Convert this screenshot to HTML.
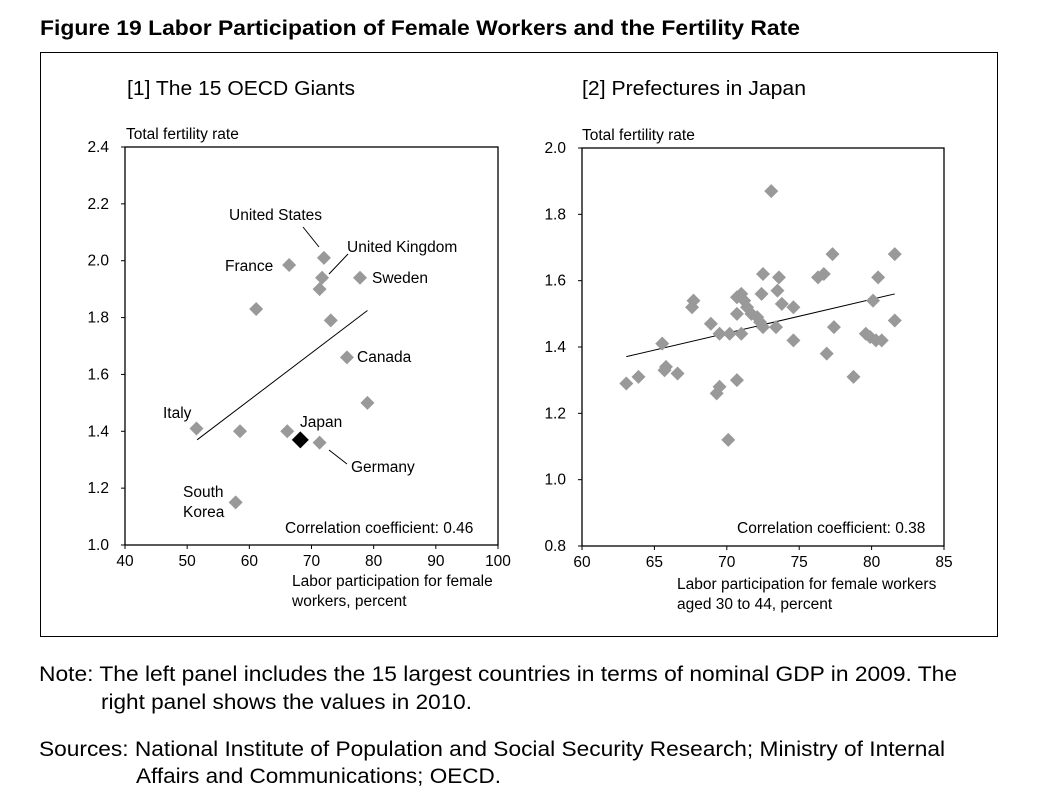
<!DOCTYPE html>
<html><head><meta charset="utf-8"><style>
body{margin:0;background:#fff;}
svg{display:block;font-family:"Liberation Sans",Arial,sans-serif;}
</style></head><body>
<svg id="fig" width="1047" height="795" viewBox="0 0 1047 795">
<text x="40" y="35" font-size="21" font-weight="bold" textLength="760" lengthAdjust="spacingAndGlyphs">Figure 19   Labor Participation of Female Workers and the Fertility Rate</text>
<rect x="40.5" y="52.5" width="957" height="584" fill="none" stroke="#000" stroke-width="1"/>
<text x="127" y="95" font-size="20" textLength="228" lengthAdjust="spacingAndGlyphs">[1] The 15 OECD Giants</text>
<text x="582" y="95" font-size="20" textLength="224" lengthAdjust="spacingAndGlyphs">[2] Prefectures in Japan</text>
<g id="left"></g>
<g id="right"></g>
<g font-size="21.5">
<text x="39" y="681" textLength="918" lengthAdjust="spacingAndGlyphs">Note:  The left panel includes the 15 largest countries in terms of nominal GDP in 2009. The</text>
<text x="101" y="709" textLength="371" lengthAdjust="spacingAndGlyphs">right panel shows the values in 2010.</text>
<text x="39" y="756" textLength="906" lengthAdjust="spacingAndGlyphs">Sources: National Institute of Population and Social Security Research; Ministry of Internal</text>
<text x="136" y="783" textLength="365" lengthAdjust="spacingAndGlyphs">Affairs and Communications; OECD.</text>
</g>
</svg>
<script>
const leftX=[51.5,58.5,57.8,61.1,66.4,72.0,71.7,71.3,73.1,77.8,75.7,79.0,66.1,68.2,71.3];
const leftY=[1.41,1.40,1.15,1.83,1.985,2.01,1.94,1.90,1.79,1.94,1.66,1.50,1.40,1.37,1.36];
const leftHighlight=[0,0,0,0,0,0,0,0,0,0,0,0,0,1,0];
const leftTrend=[[51.6,1.37],[79.0,1.825]];
const leftXTicks=[40,50,60,70,80,90,100];
const leftYTicks=[1.0,1.2,1.4,1.6,1.8,2.0,2.2,2.4];
const rightX=[63.06,63.9,65.54,65.8,65.7,66.6,67.6,67.7,68.9,69.3,69.5,69.5,70.1,70.2,70.7,70.7,70.7,71.0,71.0,71.2,71.4,71.7,72.1,72.4,72.5,72.3,72.5,73.07,73.4,73.5,73.6,73.8,74.6,74.6,76.3,76.7,76.9,77.3,77.4,78.75,79.6,79.9,80.1,80.3,80.45,80.7,81.6,81.6];
const rightY=[1.29,1.31,1.41,1.34,1.33,1.32,1.52,1.54,1.47,1.26,1.28,1.44,1.12,1.44,1.30,1.50,1.55,1.56,1.44,1.54,1.52,1.50,1.49,1.56,1.62,1.475,1.46,1.87,1.46,1.57,1.61,1.53,1.52,1.42,1.61,1.62,1.38,1.68,1.46,1.31,1.44,1.43,1.54,1.42,1.61,1.42,1.68,1.48];
const rightTrend=[[63.06,1.371],[81.6,1.56]];
const rightXTicks=[60,65,70,75,80,85];
const rightYTicks=[0.8,1.0,1.2,1.4,1.6,1.8,2.0];
const NS="http://www.w3.org/2000/svg";
const FS=15.5;
function mk(parent,tag,attrs,text){const e=document.createElementNS(NS,tag);for(const k in attrs)e.setAttribute(k,attrs[k]);if(text!==undefined)e.textContent=text;parent.appendChild(e);return e;}
function chart(g,cfg){
  const sx=v=>cfg.x0+(v-cfg.xmin)/(cfg.xmax-cfg.xmin)*(cfg.x1-cfg.x0);
  const sy=v=>cfg.y1-(v-cfg.ymin)/(cfg.ymax-cfg.ymin)*(cfg.y1-cfg.y0);
  const box=mk(g,'rect',{x:cfg.x0,y:cfg.y0,width:cfg.x1-cfg.x0,height:cfg.y1-cfg.y0,fill:'none',stroke:'#000','stroke-width':1.3});
  
  
  cfg.xt.forEach(v=>{
    const t=mk(g,'line',{x1:sx(v),x2:sx(v),y1:cfg.y1,y2:cfg.y1+4,stroke:'#000'});
    
    
    const l=mk(g,'text',{x:sx(v),y:cfg.y1+21,'font-size':FS,'text-anchor':'middle'},String(v));
    
    
  });
  cfg.yt.forEach(v=>{
    const t=mk(g,'line',{x1:cfg.x0-4,x2:cfg.x0,y1:sy(v),y2:sy(v),stroke:'#000'});
    
    
    const l=mk(g,'text',{x:cfg.x0-16,y:sy(v)+5,'font-size':FS,'text-anchor':'end'},v.toFixed(1));
    
    
  });
  const tr=mk(g,'line',{x1:sx(cfg.trend[0][0]),y1:sy(cfg.trend[0][1]),x2:sx(cfg.trend[1][0]),y2:sy(cfg.trend[1][1]),stroke:'#000','stroke-width':1});
  
  
  cfg.xs.forEach((v,i)=>{
    const hl=cfg.hl&&cfg.hl[i];const r=hl?8.5:7;
    const cx=sx(v),cy=sy(cfg.ys[i]);
    const p=mk(g,'polygon',{points:`${cx},${cy-r} ${cx+r},${cy} ${cx},${cy+r} ${cx-r},${cy}`,fill:hl?'#000':'#999'});
    
    
  });
}
chart(document.getElementById('left'),{x0:125,x1:498,y0:147,y1:545,xmin:40,xmax:100,ymin:1.0,ymax:2.4,xt:leftXTicks,yt:leftYTicks,xs:leftX,ys:leftY,hl:leftHighlight,trend:leftTrend});
chart(document.getElementById('right'),{x0:582,x1:944,y0:148,y1:546,xmin:60,xmax:85,ymin:0.8,ymax:2.0,xt:rightXTicks,yt:rightYTicks,xs:rightX,ys:rightY,trend:rightTrend});
const L=document.getElementById('left');
const labels=[["United States",229,220],["United Kingdom",347,252],["France",225,271],["Sweden",372,283],["Canada",357,362],["Italy",163,418],["Japan",300,427],["Germany",351,472],["South",183,497],["Korea",183,517]];
labels.forEach(d=>{
  const t=mk(L,'text',{x:d[1],y:d[2],'font-size':FS},d[0]);
  
  
});
[[303,227,319,247],[348,254,329,274],[329,450,347,464]].forEach(d=>{
  const l=mk(L,'line',{x1:d[0],y1:d[1],x2:d[2],y2:d[3],stroke:'#000','stroke-width':1});
  
  
});
const R=document.getElementById('right');
const extra=[[L,"Total fertility rate",126,139,'y-axis-title'],[L,"Correlation coefficient: 0.46",285,533,'correlation-note'],[L,"Labor participation for female",292,586,'x-axis-title'],[L,"workers, percent",292,606,'x-axis-title'],
[R,"Total fertility rate",582,140,'y-axis-title'],[R,"Correlation coefficient: 0.38",737,533,'correlation-note'],[R,"Labor participation for female workers",677,589,'x-axis-title'],[R,"aged 30 to 44, percent",677,609,'x-axis-title']];
extra.forEach(d=>{
  const t=mk(d[0],'text',{x:d[2],y:d[3],'font-size':FS},d[1]);
  
  
});
</script>
</body></html>
